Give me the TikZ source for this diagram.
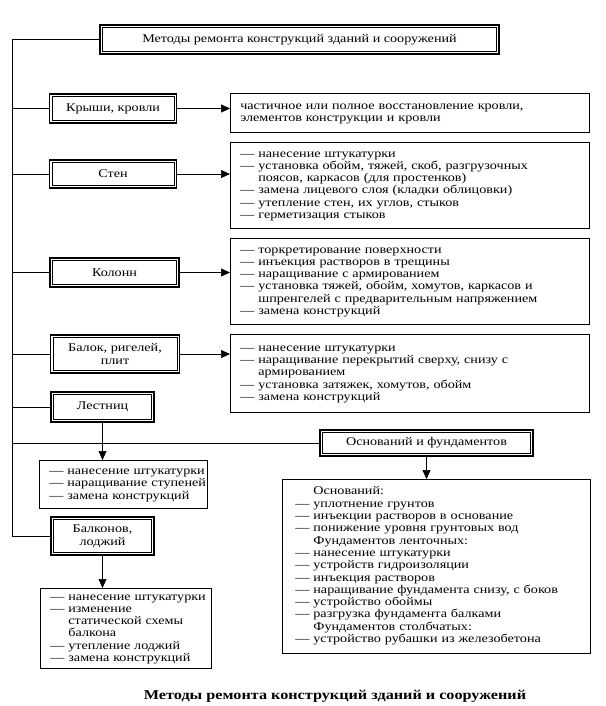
\documentclass[tikz,border=0pt]{standalone}
\usepackage{fontspec}
\setmainfont{Liberation Serif}[FakeStretch=1.2]
\usepackage{tikz}
\usetikzlibrary{positioning,arrows.meta}
\newcommand{\cont}{\phantom{— }}
\newcommand{\rows}[1]{\begin{tabular}{@{}l@{}}#1\end{tabular}}
\tikzset{
  headbox/.style={draw,line width=1.5pt,inner sep=2pt,align=center,font=\fontsize{11.8}{12.6}\selectfont,
    path picture={\draw[line width=0.6pt] ([shift={(2.6pt,-2.6pt)}]path picture bounding box.north west) rectangle ([shift={(-2.6pt,2.6pt)}]path picture bounding box.south east);}},
  listbox/.style={draw,line width=0.6pt,anchor=north west,align=left,inner xsep=10pt,inner ysep=3pt,font=\fontsize{11.8}{12.3}\selectfont},
  link/.style={line width=0.7pt},
  push/.style={line width=0.7pt,-{Triangle[length=9pt,width=8pt]}}
}

\begin{document}
\begin{tikzpicture}[x=1pt,y=-1pt]
\useasboundingbox (0,0) rectangle (605,706);
\coordinate (spine) at (12,0);
\node[headbox,minimum width=399pt,minimum height=29pt] (title) at (299.5,39.5) {Методы ремонта конструкций зданий и сооружений};
\node[headbox,minimum width=127pt,minimum height=29pt] (roof) at (113,108.5) {Крыши, кровли};
\node[headbox,minimum width=127pt,minimum height=28pt] (wall) at (113,174) {Стен};
\node[headbox,minimum width=129pt,minimum height=29pt] (column) at (114.5,272.5) {Колонн};
\node[headbox,minimum width=129pt,minimum height=38pt] (beam) at (115,354) {Балок, ригелей,\\плит};
\node[headbox,minimum width=103pt,minimum height=30pt] (stair) at (102.5,407) {Лестниц};
\node[headbox,minimum width=103pt,minimum height=38pt] (balcony) at (102.5,536) {Балконов,\\лоджий};
\node[headbox,minimum width=213pt,minimum height=26pt] (base) at (426.5,443) {Оснований и фундаментов};

\node[listbox,text width=339pt,minimum height=39pt] (listroof) at (230,93) {\rows{частичное или полное восстановление кровли,\\элементов конструкции и кровли}};
\node[listbox,text width=339pt,minimum height=86pt] (listwall) at (230,142) {\rows{— нанесение штукатурки\\— установка обойм, тяжей, скоб, разгрузочных\\\cont поясов, каркасов (для простенков)\\— замена лицевого слоя (кладки облицовки)\\— утепление стен, их углов, стыков\\— герметизация стыков}};
\node[listbox,text width=339pt,minimum height=86pt] (listcolumn) at (230,238) {\rows{— торкретирование поверхности\\— инъекция растворов в трещины\\— наращивание с армированием\\— установка тяжей, обойм, хомутов, каркасов и\\\cont шпренгелей с предварительным напряжением\\— замена конструкций}};
\node[listbox,text width=339pt,minimum height=78pt] (listbeam) at (230,334) {\rows{— нанесение штукатурки\\— наращивание перекрытий сверху, снизу с\\\cont армированием\\— установка затяжек, хомутов, обойм\\— замена конструкций}};
\node[listbox,text width=148pt,minimum height=48pt] (liststair) at (39,460) {\rows{— нанесение штукатурки\\— наращивание ступеней\\— замена конструкций}};
\node[listbox,text width=151pt,minimum height=80pt] (listbalcony) at (40,588) {\rows{— нанесение штукатурки\\— изменение\\\cont статической схемы\\\cont балкона\\— утепление лоджий\\— замена конструкций}};
\node[listbox,inner xsep=13pt,text width=282pt,minimum height=174pt] (listbase) at (282,479) {\rows{\cont Оснований:\\— уплотнение грунтов\\— инъекции растворов в основание\\— понижение уровня грунтовых вод\\\cont Фундаментов ленточных:\\— нанесение штукатурки\\— устройств гидроизоляции\\— инъекция растворов\\— наращивание фундамента снизу, с боков\\— устройство обоймы\\— разгрузка фундамента балками\\\cont Фундаментов столбчатых:\\— устройство рубашки из железобетона}};

\node[font=\fontsize{13.5}{15}\selectfont\bfseries] (caption) at (335,696) {Методы ремонта конструкций зданий и сооружений};

\draw[link] (title.west) -- (title.west -| spine) -- (balcony.west -| spine) -- (balcony.west);
\foreach \n in {roof,wall,column,beam,stair,base}
  \draw[link] (\n.west -| spine) -- (\n.west);
\foreach \n in {roof,wall,column,beam}
  \draw[push] (\n.east) -- (\n.east -| list\n.west);
\foreach \n in {stair,balcony,base}
  \draw[push] (\n.south) -- (\n.south |- list\n.north);
\end{tikzpicture}
\end{document}
